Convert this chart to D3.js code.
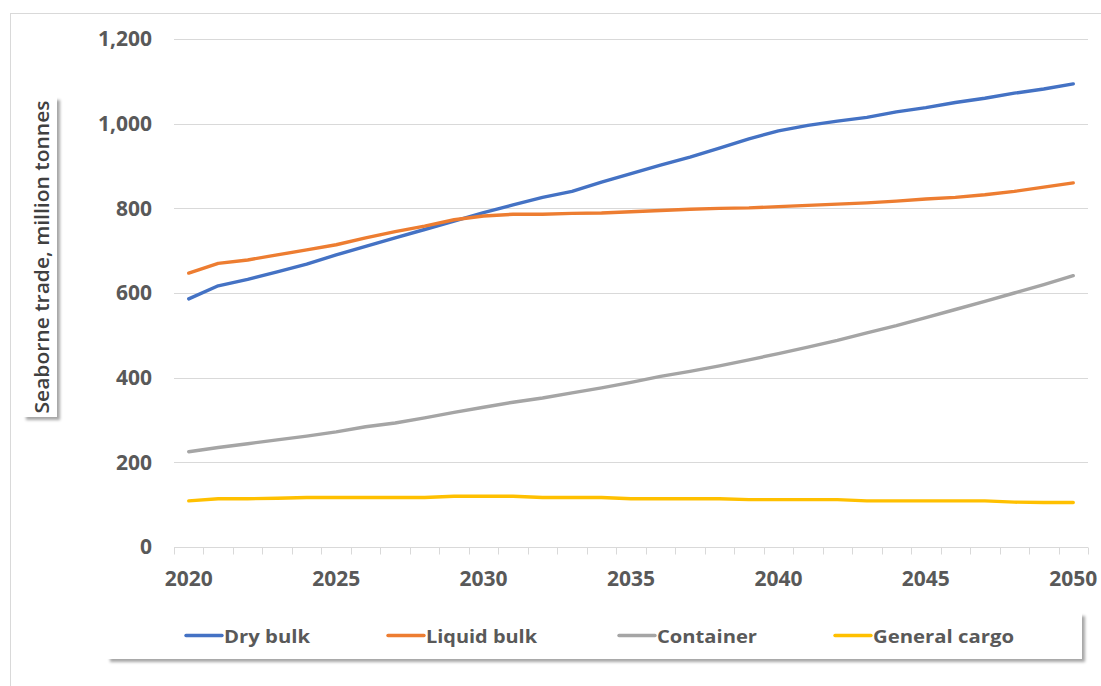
<!DOCTYPE html>
<html>
<head>
<meta charset="utf-8">
<script src="https://cdn.jsdelivr.net/npm/d3@7"></script>
<style>
  html, body { margin: 0; padding: 0; background: #fff; }
  svg { display: block; }
</style>
</head>
<body>
<svg id="chart" width="1101" height="686"></svg>
<script>
const years = d3.range(2020, 2051);
const yTicks = [0, 200, 400, 600, 800, 1000, 1200];
const xTickLabels = [2020, 2025, 2030, 2035, 2040, 2045, 2050];
const seriesNames = ["Dry bulk", "Liquid bulk", "Container", "General cargo"];
const seriesColors = ["#4472C4", "#ED7D31", "#A5A5A5", "#FFC000"];

const dryBulk = [586, 617, 632, 650, 668, 690, 710, 730, 750, 770, 790, 808, 826, 840, 862, 882, 902, 921, 942, 964, 983, 996, 1006, 1015, 1028, 1038, 1050, 1060, 1072, 1082, 1094];
const liquidBulk = [647, 670, 678, 690, 702, 714, 730, 745, 758, 773, 782, 786, 786, 788, 789, 792, 795, 798, 800, 801, 804, 807, 810, 813, 817, 822, 826, 832, 840, 850, 860];
const container = [225, 235, 244, 253, 262, 272, 284, 293, 305, 318, 330, 342, 352, 364, 376, 389, 403, 415, 428, 442, 457, 472, 488, 506, 523, 542, 561, 580, 600, 620, 641];
const generalCargo = [109, 114, 114, 115, 117, 117, 117, 117, 117, 120, 120, 120, 117, 117, 117, 114, 114, 114, 114, 112, 112, 112, 112, 109, 109, 109, 109, 109, 106, 105, 105];

const seriesValues = [dryBulk, liquidBulk, container, generalCargo];

const svg = d3.select("#chart");
const font = "'Open Sans', 'Noto Sans', sans-serif";

// outer chart border
svg.append("rect")
  .attr("x", 10.5).attr("y", 13.5).attr("width", 1200).attr("height", 800)
  .attr("fill", "none").attr("stroke", "#d9d9d9").attr("stroke-width", 1);

const plot = { left: 174, right: 1088, top: 39, bottom: 547 };

const x = d3.scaleBand().domain(years).range([plot.left, plot.right]).paddingInner(0).paddingOuter(0);
const y = d3.scaleLinear().domain([0, 1200]).range([plot.bottom, plot.top]);

const defs = svg.append("defs");
const filt = defs.append("filter").attr("id", "shadow").attr("x", "-10%").attr("y", "-10%").attr("width", "130%").attr("height", "140%");
filt.append("feDropShadow").attr("dx", 3).attr("dy", 3).attr("stdDeviation", 1.5).attr("flood-color", "#000").attr("flood-opacity", 0.35);

// gridlines
svg.append("g")
  .selectAll("line")
  .data(yTicks.filter(d => d > 0))
  .join("line")
  .attr("x1", plot.left).attr("x2", plot.right)
  .attr("y1", d => Math.round(y(d)) + 0.5).attr("y2", d => Math.round(y(d)) + 0.5)
  .attr("stroke", "#d9d9d9").attr("stroke-width", 1);

// y axis labels
const yAxis = d3.axisLeft(y).tickValues(yTicks).tickSize(0).tickPadding(0).tickFormat(d3.format(","));
const yg = svg.append("g").attr("transform", `translate(152,0)`).call(yAxis);
yg.select(".domain").remove();
yg.selectAll("text")
  .attr("font-family", font).attr("font-size", 21).attr("font-weight", "bold")
  .attr("fill", "#595959");

// x axis with category-boundary ticks
const xg = svg.append("g").attr("transform", `translate(0,${plot.bottom + 0.5})`);
xg.append("line").attr("x1", plot.left).attr("x2", plot.right)
  .attr("stroke", "#d9d9d9").attr("stroke-width", 1);
const boundaries = years.map(d => x(d)).concat([plot.right]);
xg.selectAll("line.tk").data(boundaries).join("line").attr("class", "tk")
  .attr("x1", d => Math.round(d) + 0.5).attr("x2", d => Math.round(d) + 0.5)
  .attr("y1", 0).attr("y2", 7).attr("stroke", "#d9d9d9").attr("stroke-width", 1);
const xAxis = d3.axisBottom(x).tickValues(xTickLabels).tickSize(0).tickPadding(0);
const xl = svg.append("g").attr("transform", `translate(0,${plot.bottom})`).call(xAxis);
xl.select(".domain").remove();
xl.selectAll("text")
  .attr("dy", 0).attr("y", 39)
  .attr("font-family", font).attr("font-size", 21).attr("font-weight", "bold")
  .attr("fill", "#595959");

// lines
const line = d3.line().x((d, i) => x(years[i]) + x.bandwidth() / 2).y(d => y(d));
svg.append("g").selectAll("path")
  .data(seriesValues)
  .join("path")
  .attr("d", d => line(d))
  .attr("fill", "none")
  .attr("stroke", (d, i) => seriesColors[i])
  .attr("stroke-width", 3.4)
  .attr("stroke-linejoin", "round")
  .attr("stroke-linecap", "round");

// y axis title box
const yt = svg.append("g");
yt.append("rect").attr("x", 23).attr("y", 97).attr("width", 34).attr("height", 320)
  .attr("fill", "#fff").attr("filter", "url(#shadow)");
yt.append("text")
  .attr("transform", "translate(49,257) rotate(-90)")
  .attr("text-anchor", "middle")
  .attr("font-family", font).attr("font-size", 20).attr("font-weight", 600)
  .attr("fill", "#404040")
  .attr("textLength", 313).attr("lengthAdjust", "spacingAndGlyphs")
  .text("Seaborne trade, million tonnes");

// legend
const lg = svg.append("g");
lg.append("rect").attr("x", 107).attr("y", 613).attr("width", 975).attr("height", 46)
  .attr("fill", "#fff").attr("filter", "url(#shadow)");
const legendX = [186, 388, 619, 835];
const legendW = [86, 111, 100, 141];
const items = lg.selectAll("g.it").data(seriesNames).join("g").attr("class", "it")
  .attr("transform", (d, i) => `translate(${legendX[i]},635.5)`);
items.append("line").attr("x1", 0).attr("x2", 36).attr("y1", 0).attr("y2", 0)
  .attr("stroke", (d, i) => seriesColors[i]).attr("stroke-width", 3.4).attr("stroke-linecap", "round");
items.append("text").attr("x", 38).attr("y", 7)
  .attr("font-family", font).attr("font-size", 18.5).attr("font-weight", "bold")
  .attr("fill", "#595959")
  .attr("textLength", (d, i) => legendW[i]).attr("lengthAdjust", "spacingAndGlyphs")
  .text(d => d);
</script>
</body>
</html>
